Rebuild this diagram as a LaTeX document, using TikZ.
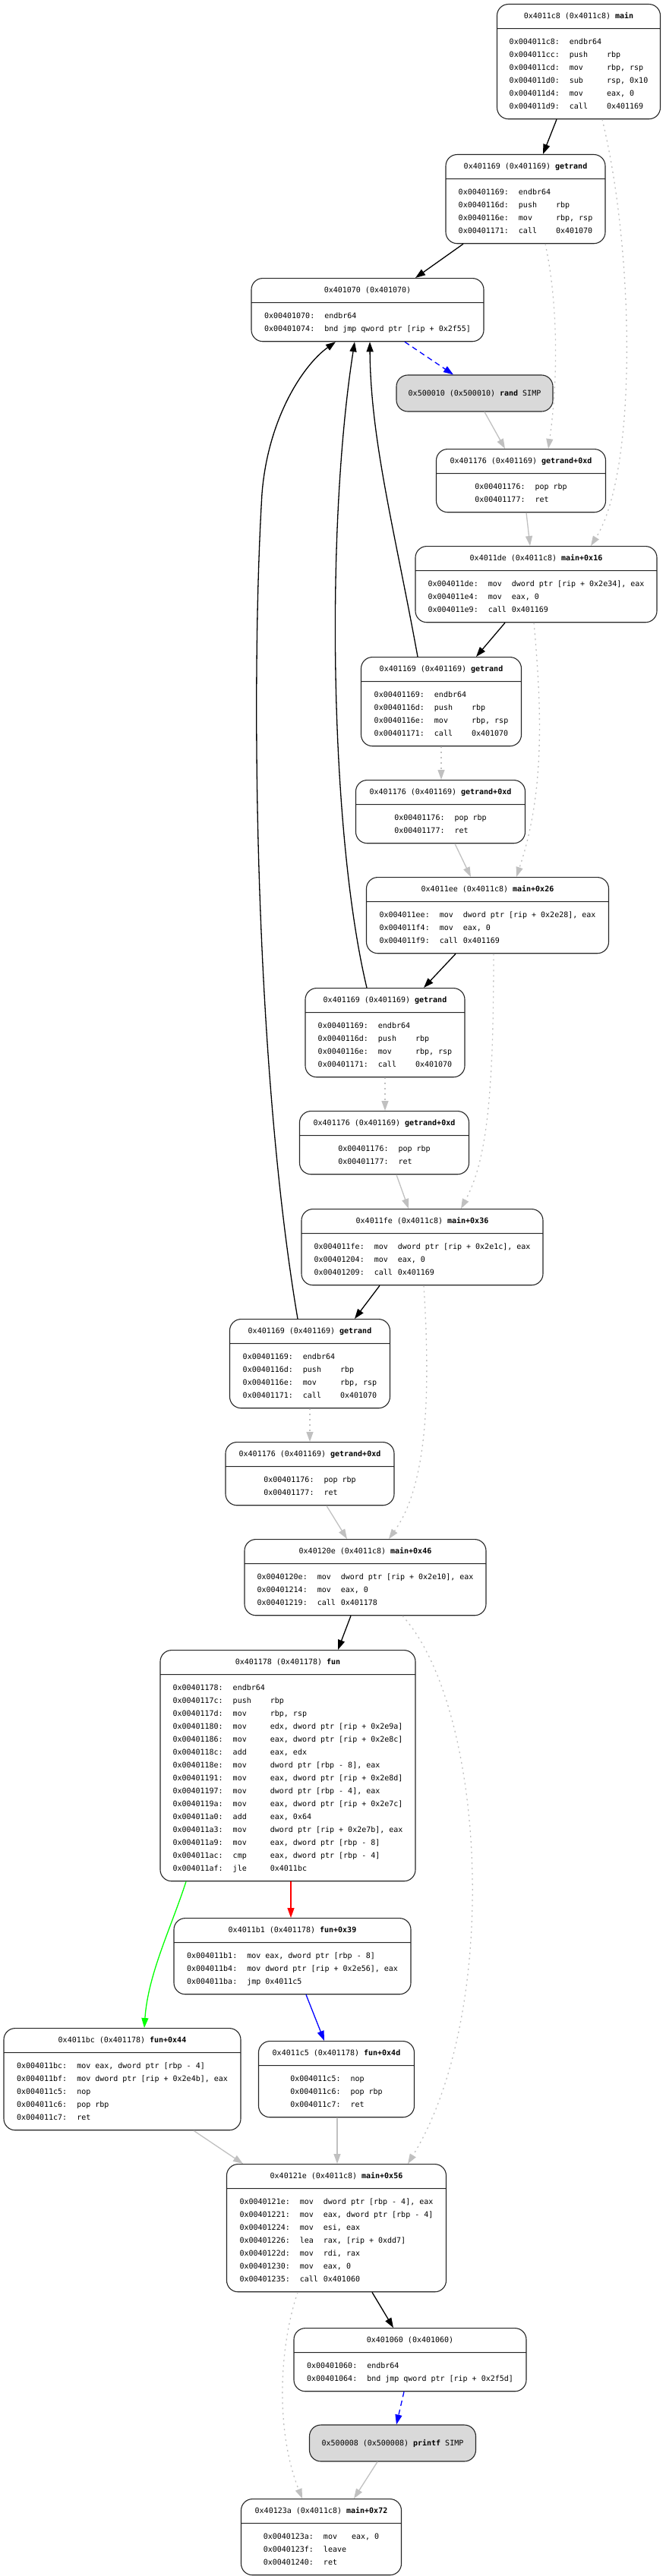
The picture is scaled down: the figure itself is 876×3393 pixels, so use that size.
\documentclass[tikz,border=0pt]{standalone}
\usepackage{fontspec}
\setmonofont{DejaVu Sans Mono}
\usetikzlibrary{shapes.multipart,arrows.meta}
\definecolor{edgegray}{HTML}{C0C0C0}
\definecolor{simpgray}{HTML}{D9D9D9}
\definecolor{boxline}{HTML}{262626}
\definecolor{cfgtrue}{HTML}{00FF00}
\definecolor{cfgfalse}{HTML}{FF0000}
\definecolor{cfgjmp}{HTML}{0000FF}
\renewcommand{\arraystretch}{1.4167}
\newcommand{\hdstrut}{\rule[-4.5pt]{0pt}{15pt}}
\newcommand{\asmthree}[1]{\begin{tabular}{@{}l@{\hspace{13pt}}l@{\hspace{7pt}}l@{}}#1\end{tabular}}
\newcommand{\asmtwo}[1]{\begin{tabular}{@{}l@{\hspace{13pt}}l@{}}#1\end{tabular}}

\begin{document}
\begin{tikzpicture}[x=1pt, y=-1pt,
    blk/.style={rectangle split, rectangle split parts=2, draw=boxline, line width=1.1pt,
        rounded corners=15pt, fill=white, inner xsep=6pt, inner ysep=8pt, font=\ttfamily, anchor=north},
    simbox/.style={draw=boxline, line width=1.1pt, rounded corners=15pt, fill=simpgray,
        minimum height=48pt, font=\ttfamily},
    tip/.style={-{Triangle[length=13pt,width=9pt]}},
    calledge/.style={tip, line width=1.3pt, black},
    retedge/.style={tip, line width=1.3pt, edgegray},
    fakeret/.style={retedge, dash pattern=on 2pt off 5pt},
    stubjmp/.style={tip, line width=1.3pt, cfgjmp, dash pattern=on 7pt off 5pt},
    trueedge/.style={tip, line width=1.3pt, cfgtrue},
    falseedge/.style={tip, line width=1.3pt, cfgfalse},
    jmpedge/.style={tip, line width=1.3pt, cfgjmp}]
    \useasboundingbox (0,0) rectangle (876,3393);
    \node[blk, minimum width=215] (m0) at (762,5) {\hdstrut 0x4011c8 (0x4011c8) \textbf{main}
        \nodepart{two}\asmthree{
        0x004011c8: & endbr64 & \\
        0x004011cc: & push & rbp \\
        0x004011cd: & mov & rbp, rsp \\
        0x004011d0: & sub & rsp, 0x10 \\
        0x004011d4: & mov & eax, 0 \\
        0x004011d9: & call & 0x401169}};
    \node[blk, minimum width=210] (g1) at (692,203) {\hdstrut 0x401169 (0x401169) \textbf{getrand}
        \nodepart{two}\asmthree{
        0x00401169: & endbr64 & \\
        0x0040116d: & push & rbp \\
        0x0040116e: & mov & rbp, rsp \\
        0x00401171: & call & 0x401070}};
    \node[blk, minimum width=306] (p1) at (484,366) {\hdstrut 0x401070 (0x401070)
        \nodepart{two}\asmtwo{
        0x00401070: & endbr64 \\
        0x00401074: & bnd jmp qword ptr [rip + 0x2f55]}};
    \node[simbox, minimum width=206] (rnd) at (625,518) {0x500010 (0x500010) \textbf{rand} SIMP};
    \node[blk, minimum width=223] (d1) at (686,591) {\hdstrut 0x401176 (0x401169) \textbf{getrand+0xd}
        \nodepart{two}\asmtwo{
        0x00401176: & pop rbp \\
        0x00401177: & ret}};
    \node[blk, minimum width=318] (m1) at (706,719) {\hdstrut 0x4011de (0x4011c8) \textbf{main+0x16}
        \nodepart{two}\asmthree{
        0x004011de: & mov & dword ptr [rip + 0x2e34], eax \\
        0x004011e4: & mov & eax, 0 \\
        0x004011e9: & call & 0x401169}};
    \node[blk, minimum width=211] (g2) at (581,865) {\hdstrut 0x401169 (0x401169) \textbf{getrand}
        \nodepart{two}\asmthree{
        0x00401169: & endbr64 & \\
        0x0040116d: & push & rbp \\
        0x0040116e: & mov & rbp, rsp \\
        0x00401171: & call & 0x401070}};
    \node[blk, minimum width=223] (d2) at (580,1027) {\hdstrut 0x401176 (0x401169) \textbf{getrand+0xd}
        \nodepart{two}\asmtwo{
        0x00401176: & pop rbp \\
        0x00401177: & ret}};
    \node[blk, minimum width=319] (m2) at (642,1155) {\hdstrut 0x4011ee (0x4011c8) \textbf{main+0x26}
        \nodepart{two}\asmthree{
        0x004011ee: & mov & dword ptr [rip + 0x2e28], eax \\
        0x004011f4: & mov & eax, 0 \\
        0x004011f9: & call & 0x401169}};
    \node[blk, minimum width=210] (g3) at (507,1301) {\hdstrut 0x401169 (0x401169) \textbf{getrand}
        \nodepart{two}\asmthree{
        0x00401169: & endbr64 & \\
        0x0040116d: & push & rbp \\
        0x0040116e: & mov & rbp, rsp \\
        0x00401171: & call & 0x401070}};
    \node[blk, minimum width=223] (d3) at (506,1463) {\hdstrut 0x401176 (0x401169) \textbf{getrand+0xd}
        \nodepart{two}\asmtwo{
        0x00401176: & pop rbp \\
        0x00401177: & ret}};
    \node[blk, minimum width=318] (m3) at (556,1592) {\hdstrut 0x4011fe (0x4011c8) \textbf{main+0x36}
        \nodepart{two}\asmthree{
        0x004011fe: & mov & dword ptr [rip + 0x2e1c], eax \\
        0x00401204: & mov & eax, 0 \\
        0x00401209: & call & 0x401169}};
    \node[blk, minimum width=211] (g4) at (408,1737) {\hdstrut 0x401169 (0x401169) \textbf{getrand}
        \nodepart{two}\asmthree{
        0x00401169: & endbr64 & \\
        0x0040116d: & push & rbp \\
        0x0040116e: & mov & rbp, rsp \\
        0x00401171: & call & 0x401070}};
    \node[blk, minimum width=222] (d4) at (408,1899) {\hdstrut 0x401176 (0x401169) \textbf{getrand+0xd}
        \nodepart{two}\asmtwo{
        0x00401176: & pop rbp \\
        0x00401177: & ret}};
    \node[blk, minimum width=318] (m4) at (481,2027) {\hdstrut 0x40120e (0x4011c8) \textbf{main+0x46}
        \nodepart{two}\asmthree{
        0x0040120e: & mov & dword ptr [rip + 0x2e10], eax \\
        0x00401214: & mov & eax, 0 \\
        0x00401219: & call & 0x401178}};
    \node[blk, minimum width=336] (fun) at (379,2173) {\hdstrut 0x401178 (0x401178) \textbf{fun}
        \nodepart{two}\asmthree{
        0x00401178: & endbr64 & \\
        0x0040117c: & push & rbp \\
        0x0040117d: & mov & rbp, rsp \\
        0x00401180: & mov & edx, dword ptr [rip + 0x2e9a] \\
        0x00401186: & mov & eax, dword ptr [rip + 0x2e8c] \\
        0x0040118c: & add & eax, edx \\
        0x0040118e: & mov & dword ptr [rbp - 8], eax \\
        0x00401191: & mov & eax, dword ptr [rip + 0x2e8d] \\
        0x00401197: & mov & dword ptr [rbp - 4], eax \\
        0x0040119a: & mov & eax, dword ptr [rip + 0x2e7c] \\
        0x004011a0: & add & eax, 0x64 \\
        0x004011a3: & mov & dword ptr [rip + 0x2e7b], eax \\
        0x004011a9: & mov & eax, dword ptr [rbp - 8] \\
        0x004011ac: & cmp & eax, dword ptr [rbp - 4] \\
        0x004011af: & jle & 0x4011bc}};
    \node[blk, minimum width=312] (f39) at (385,2526) {\hdstrut 0x4011b1 (0x401178) \textbf{fun+0x39}
        \nodepart{two}\asmtwo{
        0x004011b1: & mov eax, dword ptr [rbp - 8] \\
        0x004011b4: & mov dword ptr [rip + 0x2e56], eax \\
        0x004011ba: & jmp 0x4011c5}};
    \node[blk, minimum width=312] (f44) at (161,2671) {\hdstrut 0x4011bc (0x401178) \textbf{fun+0x44}
        \nodepart{two}\asmtwo{
        0x004011bc: & mov eax, dword ptr [rbp - 4] \\
        0x004011bf: & mov dword ptr [rip + 0x2e4b], eax \\
        0x004011c5: & nop \\
        0x004011c6: & pop rbp \\
        0x004011c7: & ret}};
    \node[blk, minimum width=205] (f4d) at (443,2688) {\hdstrut 0x4011c5 (0x401178) \textbf{fun+0x4d}
        \nodepart{two}\asmtwo{
        0x004011c5: & nop \\
        0x004011c6: & pop rbp \\
        0x004011c7: & ret}};
    \node[blk, minimum width=289] (m56) at (443,2850) {\hdstrut 0x40121e (0x4011c8) \textbf{main+0x56}
        \nodepart{two}\asmthree{
        0x0040121e: & mov & dword ptr [rbp - 4], eax \\
        0x00401221: & mov & eax, dword ptr [rbp - 4] \\
        0x00401224: & mov & esi, eax \\
        0x00401226: & lea & rax, [rip + 0xdd7] \\
        0x0040122d: & mov & rdi, rax \\
        0x00401230: & mov & eax, 0 \\
        0x00401235: & call & 0x401060}};
    \node[blk, minimum width=306] (p2) at (540,3066) {\hdstrut 0x401060 (0x401060)
        \nodepart{two}\asmtwo{
        0x00401060: & endbr64 \\
        0x00401064: & bnd jmp qword ptr [rip + 0x2f5d]}};
    \node[simbox, minimum width=219] (prf) at (517,3218) {0x500008 (0x500008) \textbf{printf} SIMP};
    \node[blk, minimum width=211] (m72) at (423,3291) {\hdstrut 0x40123a (0x4011c8) \textbf{main+0x72}
        \nodepart{two}\asmthree{
        0x0040123a: & mov & eax, 0 \\
        0x0040123f: & leave & \\
        0x00401240: & ret & }};
    \draw[calledge] ([xshift=-29]m0.south) -- ([xshift=23]g1.north);
    \draw[fakeret] ([xshift=31]m0.south) .. controls (835,330) and (840,620) .. ([xshift=72]m1.north);
    \draw[calledge] ([xshift=-82]g1.south) -- ([xshift=63]p1.north);
    \draw[fakeret] ([xshift=26]g1.south) .. controls (735,400) and (735,500) .. ([xshift=36]d1.north);
    \draw[stubjmp] ([xshift=49]p1.south) -- ([xshift=-28]rnd.north);
    \draw[retedge] ([xshift=13]rnd.south) -- ([xshift=-21]d1.north);
    \draw[retedge] ([xshift=7]d1.south) -- ([xshift=-8]m1.north);
    \draw[calledge] ([xshift=-41]m1.south) -- ([xshift=46]g2.north);
    \draw[fakeret] ([xshift=-3]m1.south) .. controls (715,950) and (715,1050) .. ([xshift=38]m2.north);
    \draw[calledge] ([xshift=-31]g2.north) .. controls (520,700) and (488,580) .. ([xshift=3]p1.south);
    \draw[fakeret] (g2.south) -- ([xshift=1]d2.north);
    \draw[retedge] ([xshift=19]d2.south) -- ([xshift=-22]m2.north);
    \draw[calledge] ([xshift=-42]m2.south) -- ([xshift=51]g3.north);
    \draw[fakeret] ([xshift=8]m2.south) .. controls (650,1450) and (640,1530) .. ([xshift=51]m3.north);
    \draw[calledge] ([xshift=-24]g3.north) .. controls (435,1100) and (428,700) .. ([xshift=-17]p1.south);
    \draw[fakeret] (g3.south) -- ([xshift=1]d3.north);
    \draw[retedge] ([xshift=16]d3.south) -- ([xshift=-18]m3.north);
    \draw[calledge] ([xshift=-56]m3.south) -- ([xshift=59]g4.north);
    \draw[fakeret] ([xshift=2]m3.south) .. controls (568,1850) and (560,1960) .. ([xshift=31]m4.north);
    \draw[calledge] ([xshift=-16]g4.north) .. controls (335,1400) and (330,900) .. (345,650)
        .. controls (353,550) and (400,480) .. ([xshift=-42]p1.south);
    \draw[fakeret] (g4.south) -- (d4.north);
    \draw[retedge] ([xshift=22]d4.south) -- ([xshift=-24]m4.north);
    \draw[calledge] ([xshift=-19]m4.south) -- ([xshift=66]fun.north);
    \draw[fakeret] ([xshift=49]m4.south) .. controls (640,2250) and (660,2650) .. ([xshift=94]m56.north);
    \draw[trueedge] ([xshift=-134]fun.south) .. controls (225,2540) and (195,2600) .. ([xshift=29]f44.north);
    \draw[falseedge] ([xshift=4]fun.south) -- ([xshift=-2]f39.north);
    \draw[jmpedge] ([xshift=18]f39.south) -- ([xshift=-16]f4d.north);
    \draw[retedge] ([xshift=94]f44.south) -- ([xshift=-123]m56.north);
    \draw[retedge] ([xshift=1]f4d.south) -- ([xshift=1]m56.north);
    \draw[calledge] ([xshift=47]m56.south) -- ([xshift=-22]p2.north);
    \draw[fakeret] ([xshift=-51]m56.south) .. controls (368,3090) and (362,3200) .. ([xshift=-25]m72.north);
    \draw[stubjmp] ([xshift=-8]p2.south) -- ([xshift=5]prf.north);
    \draw[retedge] ([xshift=-20]prf.south) -- ([xshift=43]m72.north);
\end{tikzpicture}
\end{document}
